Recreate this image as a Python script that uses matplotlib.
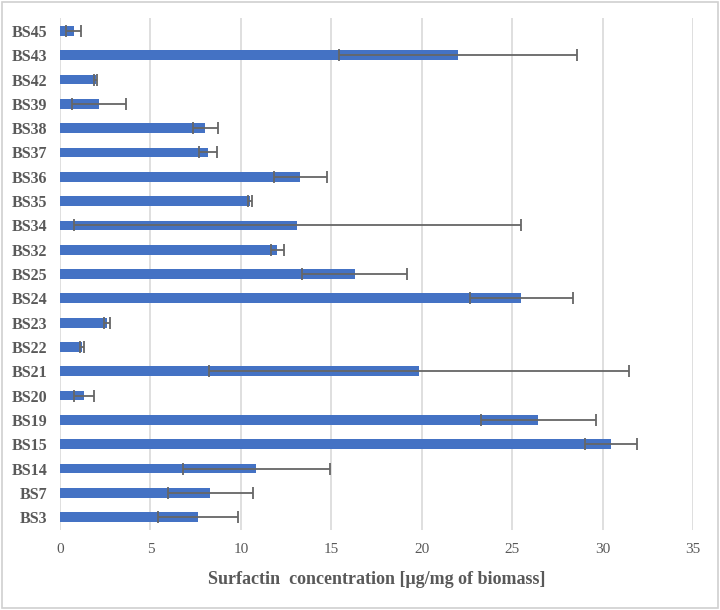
import matplotlib
matplotlib.use("Agg")
import matplotlib.pyplot as plt
from matplotlib.patches import Rectangle

# datos (de abajo hacia arriba)
cepas = ["BS3", "BS7", "BS14", "BS15", "BS19", "BS20", "BS21", "BS22", "BS23", "BS24",
         "BS25", "BS32", "BS34", "BS35", "BS36", "BS37", "BS38", "BS39", "BS42", "BS43", "BS45"]
valores = [7.63, 8.31, 10.86, 30.45, 26.44, 1.32, 19.85, 1.23, 2.59, 25.5,
           16.3, 12.02, 13.13, 10.49, 13.29, 8.16, 8.03, 2.15, 1.97, 22.0, 0.75]
errores = [2.2, 2.35, 4.05, 1.44, 3.18, 0.55, 11.62, 0.1, 0.15, 2.85,
           2.9, 0.35, 12.35, 0.1, 1.45, 0.5, 0.7, 1.5, 0.08, 6.6, 0.4]

gris = "#595959"
fig = plt.figure(figsize=(7.2, 6.1), dpi=100)
ax = fig.add_axes([0.0833, 0.131, 0.8792, 0.8395])

pos = list(range(len(cepas)))
ax.barh(pos, valores, height=0.4, color="#4472C4", zorder=2)
ax.errorbar(valores, pos, xerr=errores, fmt="none", ecolor="#666666",
            elinewidth=1.3, capsize=4, capthick=1.3, zorder=3)

ax.set_xlim(0, 35)
ax.set_ylim(-0.53, 20.53)
ax.set_xticks(range(0, 36, 5))
ax.set_yticks(pos)
ax.set_yticklabels(cepas, fontfamily="Liberation Serif", fontweight="bold",
                   fontsize=11.5, color=gris)
for t in ax.get_xticklabels():
    t.set_fontfamily("Liberation Serif")
    t.set_fontsize(11)
    t.set_color(gris)
ax.tick_params(length=0, pad=9)
ax.tick_params(axis="x", pad=9)
ax.grid(axis="x", color="#d9d9d9", linewidth=1.2, zorder=0)
for s in ax.spines.values():
    s.set_visible(False)

ax.set_xlabel("Surfactin  concentration [\u03bcg/mg of biomass]", fontfamily="Liberation Serif",
              fontweight="bold", fontsize=13, color=gris, labelpad=11)

fig.patches.append(Rectangle((0.003, 0.003), 0.994, 0.994, transform=fig.transFigure,
                             fill=False, edgecolor="#d0d0d0", linewidth=1.2))

fig.savefig("out.png", dpi=100)
